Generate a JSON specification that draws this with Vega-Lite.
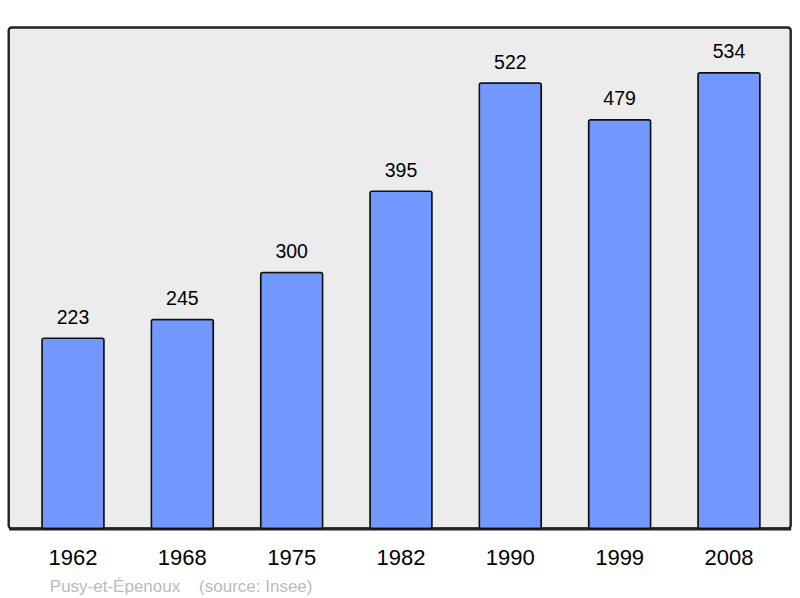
{
  "$schema": "https://vega.github.io/schema/vega-lite/v6.json",
  "autosize": {"type": "none"},
  "padding": {"left": 8.7, "top": 27.5, "right": 9.3, "bottom": 69.5},
  "width": 782,
  "height": 501,
  "background": "#ffffff",
  "config": {
    "view": {"fill": "#ececec", "stroke": "#222222", "strokeWidth": 2.4, "cornerRadius": 3},
    "font": "Liberation Sans"
  },
  "data": {
    "values": [
      {"year": "1962", "pop": 223},
      {"year": "1968", "pop": 245},
      {"year": "1975", "pop": 300},
      {"year": "1982", "pop": 395},
      {"year": "1990", "pop": 522},
      {"year": "1999", "pop": 479},
      {"year": "2008", "pop": 534}
    ]
  },
  "encoding": {
    "x": {
      "field": "year",
      "type": "nominal",
      "sort": null,
      "scale": {"paddingInner": 0.433, "paddingOuter": 0.293, "align": 0.52},
      "axis": {
        "title": "Pusy-et-Épenoux\u00a0\u00a0\u00a0\u00a0(source: Insee)",
        "titleFont": "Liberation Sans",
        "titleFontSize": 17,
        "titleFontWeight": "normal",
        "titleColor": "#bbbbbb",
        "titleAnchor": "start",
        "titleAlign": "left",
        "titleBaseline": "alphabetic",
        "titleX": 40.6,
        "titleY": 62.8,
        "labelAngle": 0,
        "labelFont": "Liberation Sans",
        "labelFontSize": 22,
        "labelColor": "#000000",
        "labelPadding": 19,
        "ticks": false,
        "domain": true,
        "domainColor": "#222222",
        "domainWidth": 3
      }
    },
    "y": {
      "field": "pop",
      "type": "quantitative",
      "scale": {"domain": [0, 587], "nice": false, "zero": true},
      "axis": null
    }
  },
  "layer": [
    {
      "mark": {"type": "bar", "fill": "#7098ff", "stroke": "#111111", "strokeWidth": 1.5, "cornerRadius": 2}
    },
    {
      "mark": {"type": "text", "baseline": "alphabetic", "dy": -14.4, "fontSize": 19.5, "font": "Liberation Sans", "color": "#000000"},
      "encoding": {"text": {"field": "pop", "type": "quantitative"}}
    }
  ]
}
